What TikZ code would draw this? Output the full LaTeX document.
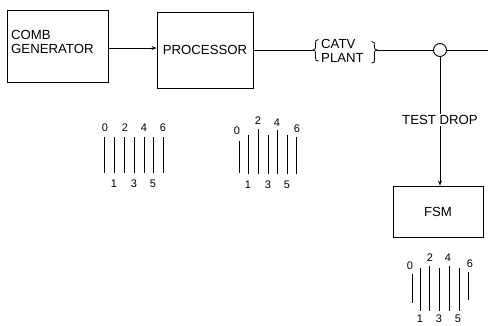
\documentclass[tikz,border=0pt]{standalone}
\usepackage{fontspec}
\setmainfont{Liberation Sans}
\usetikzlibrary{arrows.meta}
\begin{document}
\begin{tikzpicture}[x=1pt,y=-1pt,
  blk/.style={draw,line width=0.9pt,inner sep=0pt},
  lbl/.style={font=\fontsize{13.2}{14.5}\selectfont,inner sep=1pt},
  num/.style={font=\fontsize{11}{12}\selectfont,inner sep=0pt},
  wire/.style={line width=0.8pt},
  arr/.style={wire,-{Stealth[length=5pt,width=4pt]}},
  bar/.style={line width=0.8pt}]
\fill[white] (0,0) rectangle (488,326);
\useasboundingbox (0,0) rectangle (488,326);
% blocks
\node[blk,minimum width=101pt,minimum height=72pt] (comb) at (58,46) {};
\node[lbl,anchor=west,align=left] (combtxt) at (10,42) {COMB\\GENERATOR};
\node[blk,lbl,minimum width=96pt,minimum height=76pt] (proc) at (205,50) {PROCESSOR};
\draw[arr] ([yshift=-2pt]comb.east) -- ([yshift=-2pt]comb.east -| proc.west);
% CATV plant braces
\coordinate (lb) at (313,50);
\coordinate (rb) at (377,50);
\draw[wire] (318.5,39.5) .. controls (315.5,39.5) and (315.5,41) .. (315.5,44) -- (315.5,47) .. controls (315.5,49) .. (lb) .. controls (315.5,51) .. (315.5,53) -- (315.5,57) .. controls (315.5,60) and (315.5,61) .. (318.5,61);
\draw[wire] (371.5,41.5) .. controls (374.5,41.5) and (374.5,43) .. (374.5,46) -- (374.5,47) .. controls (374.5,49) .. (rb) .. controls (374.5,51) .. (374.5,53) -- (374.5,59) .. controls (374.5,62) and (374.5,63) .. (371.5,63);
\node[lbl,anchor=west,align=left] (catv) at (320,51) {CATV\\PLANT};
\draw[wire] (proc.east) -- (lb);
\node[draw,circle,minimum size=13pt,inner sep=0pt,line width=0.9pt] (tap) at (440,50) {};
\coordinate (out) at (488,50);
\draw[wire] (rb) -- (tap.west);
\draw[wire] (tap.east) -- (out);
\node[lbl] (test) at (440,120) {TEST DROP};
\draw[wire] (tap.south) -- (tap.south |- test.north);
\node[blk,lbl,minimum width=90pt,minimum height=51pt] (fsm) at (438,211.5) {FSM};
\draw[arr] (tap.south |- test.south) -- (tap.south |- fsm.north);
% spectrum 1
\foreach \n/\x/\y in {0/105/128,2/125/128,4/144/128,6/163/128,1/114/184,3/134/184,5/153/184}
  \node[num] (sa\n) at (\x,\y) {\n};
\foreach \x in {104,114,124,134,144,153,163}
  \draw[bar] (\x,137) -- (\x,173);
% spectrum 2
\foreach \n/\x/\y in {0/237/131,2/258/121,4/277/123,6/297/129,1/248/185,3/268/185,5/287/185}
  \node[num] (sb\n) at (\x,\y) {\n};
\foreach \x/\a/\b in {239/141/173,248/135/174,258/129/174,268/135/174,277/130/174,287/135/174,296/137/174}
  \draw[bar] (\x,\a) -- (\x,\b);
% spectrum 3
\foreach \n/\x/\y in {0/410/266,2/430/258,4/448/258,6/470/264,1/420/319,3/439/319,5/458/319}
  \node[num] (sc\n) at (\x,\y) {\n};
\foreach \x/\a/\b in {412/274/303,420/268/311,429/266/311,439/268/311,449/266/311,459/268/311,468/272/300}
  \draw[bar] (\x,\a) -- (\x,\b);
\end{tikzpicture}
\end{document}
